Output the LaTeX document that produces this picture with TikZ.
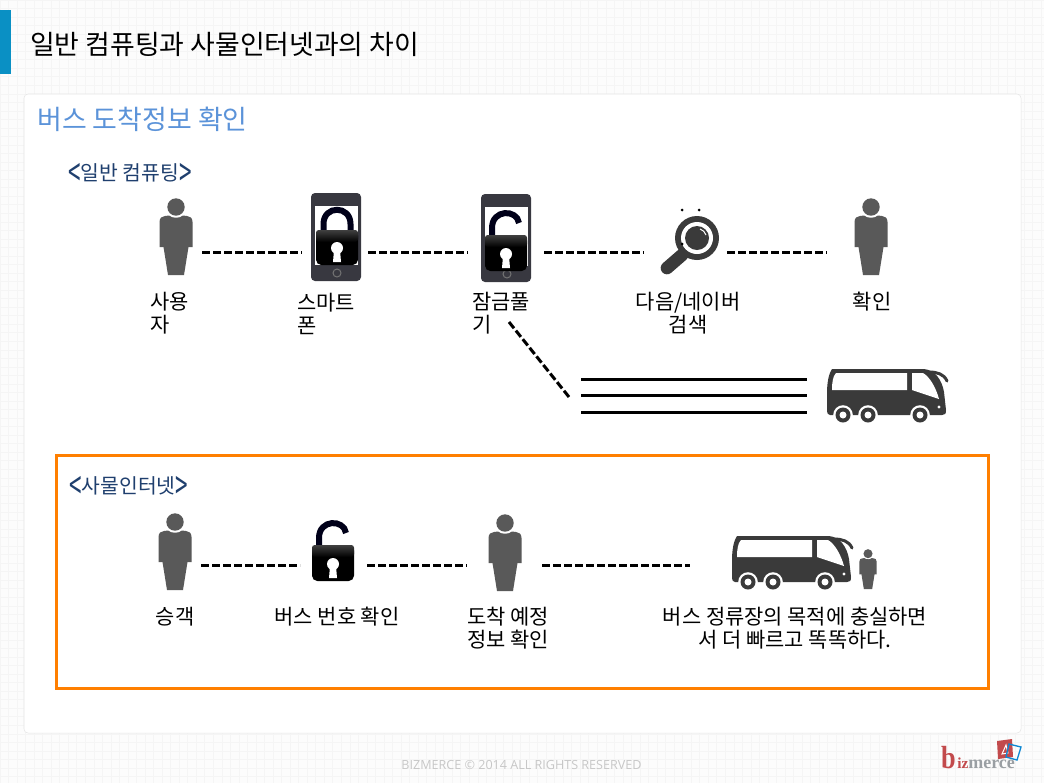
\documentclass[tikz,border=0pt]{standalone}
\usepackage{fontspec}
\setmainfont{Noto Sans CJK KR}
\newfontfamily\footfont{Open Sans}
\newfontfamily\logofont{Liberation Serif}
\definecolor{barblue}{HTML}{0A90C4}
\definecolor{headblue}{HTML}{5B93D9}
\definecolor{subnavy}{HTML}{1F3F6E}
\definecolor{boxorange}{HTML}{FF7F00}
\definecolor{persongray}{HTML}{595959}
\definecolor{phonedark}{HTML}{383840}
\definecolor{busdark}{HTML}{3A3A3A}
\definecolor{pagetint}{HTML}{FCFCFC}
\definecolor{gridtint}{HTML}{F5F5F5}
\definecolor{logored}{HTML}{C24A4C}
\definecolor{logogray}{HTML}{9A9FA3}
\newcommand{\tallmark}[1]{\raisebox{-.3em}{\scalebox{1.1}[1.9]{#1}}}
\tikzset{
   slot/.style={minimum width=#1*.75pt,minimum height=2pt,inner sep=0pt,outer sep=0pt},
   capt/.style={font=\fontsize{15.7}{17.25}\selectfont,inner sep=0pt,text=black},
   captl/.style={capt,anchor=west,align=left},
   captc/.style={capt,align=center},
   sub/.style={font=\fontsize{15.3}{18}\selectfont,text=subnavy,inner sep=0pt,anchor=west},
   dashline/.style={line width=2.25pt,dash pattern=on 6pt off 2.25pt,black},
   roadline/.style={line width=2.25pt,black},
   person/.pic={
      \fill[persongray] (0,9) circle (8.7);
      \fill[persongray] (-16.5,24) .. controls (-16.5,20) and (-14,18) .. (-11,18)
         -- (-7,17.5) .. controls (-4,20.5) and (4,20.5) .. (7,17.5)
         -- (11,18) .. controls (14,18) and (16.5,20) .. (16.5,24)
         -- (16.5,49) -- (12.5,49) -- (8,77) -- (-8,77) -- (-12.5,49) -- (-16.5,49) -- cycle;
   },
   lockshut/.pic={
      \draw[line width=4.5pt,black!90!blue] (-13.5,3) -- (-13.5,-6) .. controls (-13.5,-25) and (13.5,-25) .. (13.5,-6) -- (13.5,3);
      \fill[black,rounded corners=4] (-21,0) rectangle (21,35);
      \shade[top color=black!75,middle color=black!25,bottom color=black,rounded corners=2] (-21,0) rectangle (21,12);
      \fill[white] (0,18) circle (6);
      \fill[white] (-3,20) -- (-4,32) -- (4,32) -- (3,20) -- cycle;
   },
   lockopen/.pic={
      \draw[line width=4.5pt,black!90!blue] (-14,3) -- (-14,-7) .. controls (-14,-26) and (11,-26) .. (13,-12);
      \fill[black,rounded corners=4] (-21,0) rectangle (21,36);
      \shade[top color=black!75,middle color=black!25,bottom color=black,rounded corners=2] (-21,0) rectangle (21,12);
      \fill[white] (0,19) circle (6);
      \fill[white] (-3,21) -- (-4,33) -- (4,33) -- (3,21) -- cycle;
   },
   phonecase/.pic={
      \fill[phonedark,rounded corners=3] (0,0) rectangle (50,88);
      \fill[white] (4,13) rectangle (47,72);
      \draw[black!55,line width=.75pt] (26,80) circle (4);
   },
   coach/.pic={
      \fill[busdark] (0,43) -- (0,25) .. controls (0,14) and (2,5) .. (5,1) -- (97,1)
         .. controls (108,2) and (115,12) .. (117,24) -- (119,42) .. controls (119,46) and (118,47) .. (115,47)
         -- (3,47) .. controls (1,47) and (0,45) .. (0,43) -- cycle;
      \fill[white] (5,22) .. controls (5,14) and (6,8) .. (9,5) -- (80,5) -- (80,22) -- cycle;
      \fill[white] (85,5) -- (96,5) .. controls (103,9) and (109,20) .. (112,31) -- (85,22) -- cycle;
      \draw[busdark,line width=2.25pt,line cap=round] (102,4) .. controls (110,4) and (117,6) .. (120,13);
      \fill[white] (112,39) circle (1.6);
      \foreach \wx in {16,41,93}{
         \fill[white] (\wx,47) circle (9.8);
         \fill[busdark] (\wx,47) circle (7.5);
         \fill[white] (\wx,47) circle (3.5);
      }
   },
   lens/.pic={
      \draw[busdark,line width=9.5pt,line cap=round] (-15,17) -- (-30,30);
      \fill[busdark] (0,0) circle (22);
      \fill[white] (0,0) circle (16);
      \fill[busdark] (0,0) circle (12);
      \draw[white,line width=.75pt] (3,-9) .. controls (6,-8) and (8,-6) .. (9,-3);
      \fill[black] (-15,6) circle (1.5);
   }
}
\begin{document}
\begin{tikzpicture}[x=.75pt,y=-.75pt]
   \useasboundingbox (0,0) rectangle (1044,783);
   %fondo
   \fill[pagetint] (0,0) rectangle (1044,783);
   \draw[gridtint,line width=.5pt,step=6.4pt] (0,0) grid (1044,783);
   \fill[barblue] (0,10) rectangle (11,74);
   \filldraw[fill=white,draw=black!10,rounded corners=3] (24,94) rectangle (1021,733);
   %titulos
   \node[anchor=west,inner sep=0pt,font=\fontsize{20.15}{24}\selectfont] (title) at (30,44) {일반 컴퓨팅과 사물인터넷과의 차이};
   \node[anchor=west,inner sep=0pt,font=\fontsize{20.2}{24}\selectfont,text=headblue] (head) at (37,119) {버스 도착정보 확인};
   \node[sub] (subone) at (68,175) {\tallmark{<}일반 컴퓨팅\tallmark{>}};
   %fila superior
   \node[slot=51] (user) at (176.5,252) {};
   \node[slot=66] (phone) at (335,252) {};
   \node[slot=76] (unlock) at (506,252) {};
   \node[slot=83] (search) at (685.5,252) {};
   \node[slot=90] (check) at (872,252) {};
   \pic at (176,198) {person};
   \pic at (311,193) {phonecase};
   \pic at (337,230) {lockshut};
   \pic at (481,194) {phonecase};
   \pic at (506,235) {lockopen};
   \pic at (697,238) {lens};
   \fill (682,210) circle (1.5) (699,210) circle (1.5);
   \pic at (871,198) {person};
   \draw[dashline] (user) -- (phone);
   \draw[dashline] (phone) -- (unlock);
   \draw[dashline] (unlock) -- (search);
   \draw[dashline] (search) -- (check);
   \node[captl] (captuser) at (150,313.5) {사용\\자};
   \node[captl] (captphone) at (297,313.5) {스마트\\폰};
   \node[captl] (captunlock) at (472,313.5) {잠금풀\\기};
   \node[captc] (captsearch) at (688,313.5) {다음/네이버\\검색};
   \node[captc] (captcheck) at (872,302) {확인};
   %camino
   \coordinate (diagtop) at (509,322);
   \coordinate (diagend) at (569,397);
   \draw[dashline] (diagtop) -- (diagend);
   \foreach \y in {379,395,412}
      \draw[roadline] (581,\y) -- (807,\y);
   \pic at (827,368) {coach};
   %caja inferior
   \draw[boxorange,line width=2.25pt] (56,455) rectangle (988,688);
   \node[sub] (subtwo) at (69,488) {\tallmark{<}사물인터넷\tallmark{>}};
   \node[slot=52] (rider) at (175,565) {};
   \node[slot=67] (lockb) at (333.5,565) {};
   \node[slot=75] (arrive) at (504.5,565) {};
   \node[slot=84] (busb) at (732,565) {};
   \pic at (175,513) {person};
   \pic at (333,545) {lockopen};
   \pic at (505,514) {person};
   \pic at (732,535) {coach};
   \pic[scale=.52] at (868,549) {person};
   \draw[dashline] (rider) -- (lockb);
   \draw[dashline] (lockb) -- (arrive);
   \draw[dashline] (arrive) -- (busb);
   \node[captc] (captrider) at (175,617) {승객};
   \node[captc] (captlock) at (337,617) {버스 번호 확인};
   \node[captc] (captarrive) at (508,628.5) {도착 예정\\정보 확인};
   \node[captc] (captbus) at (795,628.5) {버스 정류장의 목적에 충실하면\\서 더 빠르고 똑똑하다.};
   %pie
   \node[inner sep=0pt,text=black!22,font=\footfont\fontsize{9.43}{11}\selectfont] (foot) at (521.5,765) {BIZMERCE © 2014 ALL RIGHTS RESERVED};
   \fill[logored] (997,741) -- (1012,739) -- (1013,757) -- (998,759) -- cycle;
   \draw[white,line width=.75pt] (1006,745) -- (1002,754) -- (1008,753) -- cycle;
   \draw[cyan!70!blue,line width=1pt] (1009,744) -- (1021,747) -- (1017,760) -- (1006,757) -- cycle;
   \node[anchor=base west,inner sep=0pt,text=logored,xscale=.82,font=\logofont\bfseries\fontsize{24}{24}\selectfont] (logob) at (941,768) {b};
   \node[anchor=base west,inner sep=0pt,text=logored,font=\logofont\bfseries\fontsize{11.5}{12}\selectfont] (logoiz) at (957,768) {iz};
   \node[anchor=base west,inner sep=0pt,text=logogray,font=\logofont\bfseries\fontsize{13.5}{14}\selectfont] (logomerce) at (968,768) {merce};
\end{tikzpicture}
\end{document}
